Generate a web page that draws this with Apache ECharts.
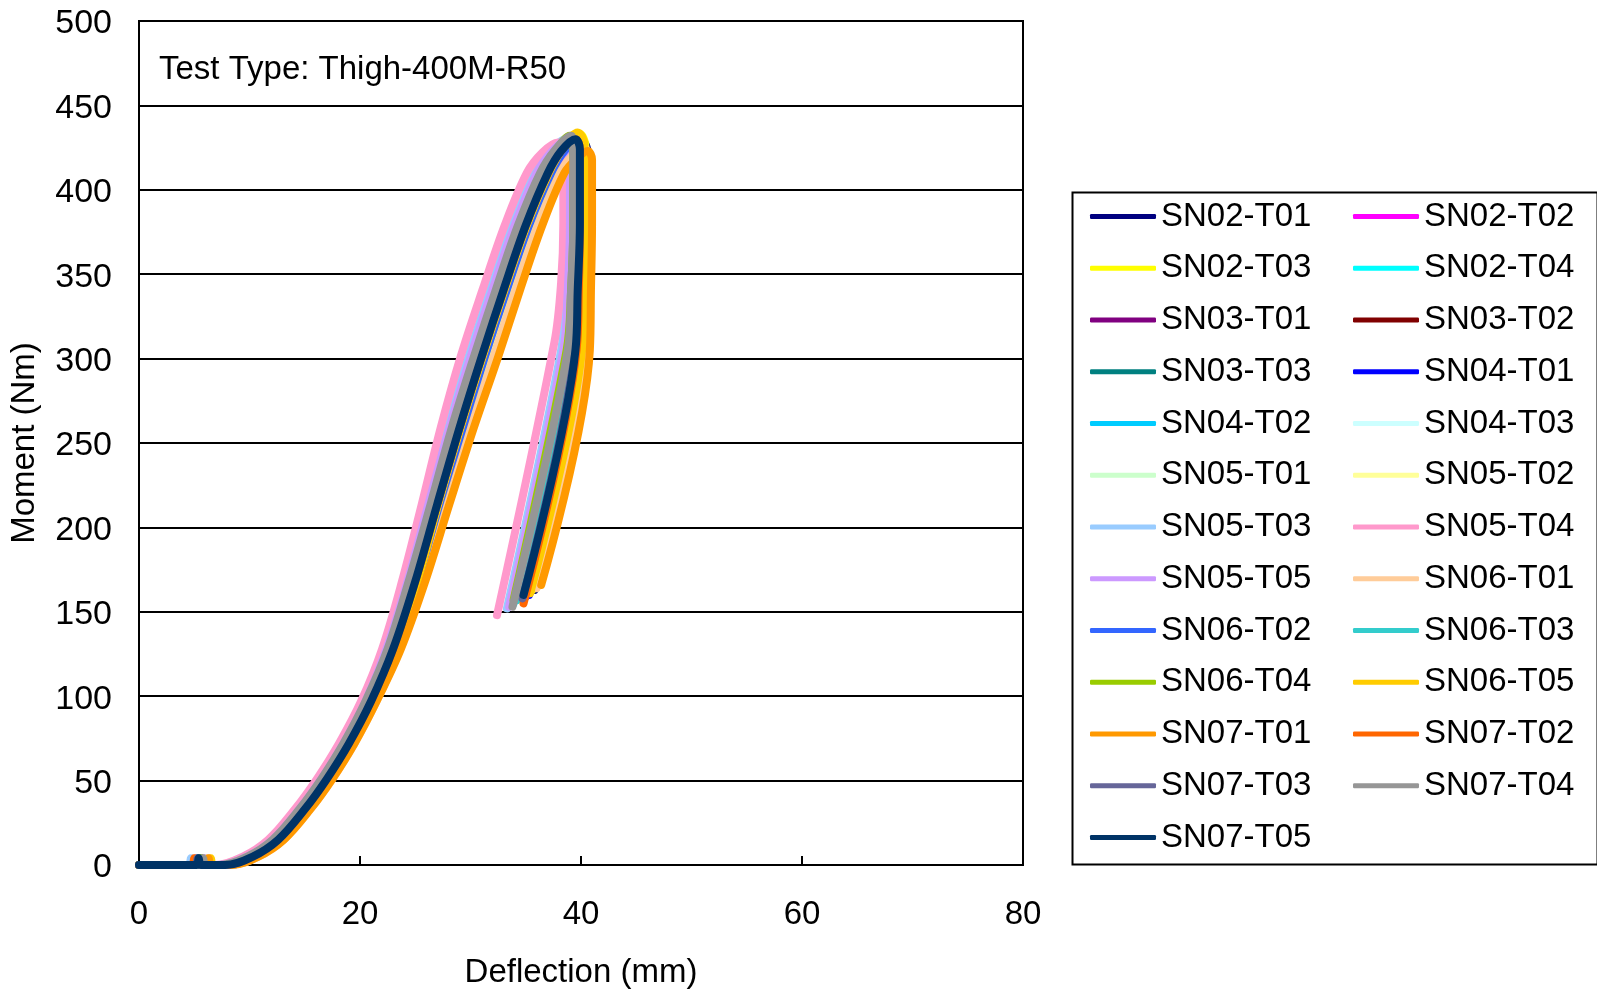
<!DOCTYPE html>
<html><head><meta charset="utf-8">
<script src="https://cdn.jsdelivr.net/npm/echarts@6/dist/echarts.min.js"></script>
<style>html,body{margin:0;padding:0;background:#fff}#c{width:1597px;height:995px}</style>
</head><body><div id="c"></div>
<script>
// ---- data (Deflection mm, Moment Nm) ----
const xTickValues = [0, 20, 40, 60, 80];
const yTickValues = [0, 50, 100, 150, 200, 250, 300, 350, 400, 450, 500];
const annotation = 'Test Type: Thigh-400M-R50';
const seriesNames = ['SN02-T01','SN02-T02','SN02-T03','SN02-T04','SN03-T01','SN03-T02','SN03-T03','SN04-T01','SN04-T02','SN04-T03','SN05-T01','SN05-T02','SN05-T03','SN05-T04','SN05-T05','SN06-T01','SN06-T02','SN06-T03','SN06-T04','SN06-T05','SN07-T01','SN07-T02','SN07-T03','SN07-T04','SN07-T05'];

const SN02_T01 = [[0,0],[5.4,0],[5.6,4],[5.8,0],[8.1,0],[10.6,5],[12.9,15],[15.3,33],[17.3,51],[19.3,72],[21.3,97],[23.4,128],[25.5,168],[27.6,214],[29.7,259],[31.8,301],[33.8,341],[35.8,379],[37.8,410],[39.0,422],[40.2,428],[40.6,422],[40.6,380],[40.5,340],[40.4,305],[35.8,163]];
const SN02_T02 = [[0,0],[5.1,0],[5.3,4],[5.5,0],[7.8,0],[10.3,5],[12.6,15],[15.0,33],[17.0,51],[19.0,72],[21.0,97],[23.0,128],[25.0,168],[27.1,214],[29.1,259],[31.1,301],[33.1,341],[35.1,379],[37.1,410],[38.3,423],[39.4,430],[39.7,424],[39.7,380],[39.5,340],[39.3,305],[34.6,158]];
const SN02_T03 = [[0,0],[5.5,0],[5.7,4],[5.9,0],[8.1,0],[10.6,5],[12.9,15],[15.3,33],[17.3,51],[19.3,72],[21.3,97],[23.3,128],[25.4,168],[27.5,214],[29.5,259],[31.6,301],[33.6,341],[35.6,379],[37.6,410],[38.8,424],[39.9,433],[40.4,426],[40.4,380],[40.3,340],[40.2,305],[35.6,163]];
const SN02_T04 = [[0,0],[5.3,0],[5.5,4],[5.7,0],[7.6,0],[10.1,5],[12.4,15],[14.8,33],[16.8,51],[18.8,72],[20.8,97],[22.8,128],[24.7,168],[26.7,214],[28.6,259],[30.6,301],[32.6,341],[34.6,379],[36.6,410],[37.8,423],[39.2,430],[39.3,424],[39.3,380],[39.1,340],[38.7,305],[33.9,156]];
const SN03_T01 = [[0,0],[5.2,0],[5.4,4],[5.6,0],[7.8,0],[10.3,5],[12.6,15],[15.0,33],[17.0,51],[19.0,72],[21.0,97],[23.0,128],[25.1,168],[27.1,214],[29.2,259],[31.2,301],[33.2,341],[35.2,379],[37.2,410],[38.4,423],[39.5,431],[39.9,425],[39.9,380],[39.8,340],[39.6,305],[34.9,159]];
const SN03_T02 = [[0,0],[5.4,0],[5.6,4],[5.8,0],[7.9,0],[10.4,5],[12.7,15],[15.1,33],[17.1,51],[19.1,72],[21.1,97],[23.1,128],[25.2,168],[27.2,214],[29.3,259],[31.3,301],[33.3,341],[35.3,379],[37.3,410],[38.5,423],[39.8,430],[40.1,424],[40.1,380],[40.0,340],[39.8,305],[35.1,160]];
const SN03_T03 = [[0,0],[5.1,0],[5.3,4],[5.5,0],[7.8,0],[10.2,5],[12.5,15],[14.9,33],[17.0,51],[19.0,72],[21.0,97],[23.0,128],[25.0,168],[27.0,214],[29.1,259],[31.1,301],[33.1,341],[35.1,379],[37.1,410],[38.3,423],[39.5,430],[39.7,424],[39.7,380],[39.5,340],[39.3,305],[34.6,158]];
const SN04_T01 = [[0,0],[5.6,0],[5.8,4],[6.0,0],[8.1,0],[10.6,5],[12.9,15],[15.3,33],[17.3,51],[19.3,72],[21.3,97],[23.3,128],[25.4,168],[27.5,214],[29.5,259],[31.6,301],[33.6,341],[35.6,379],[37.6,410],[38.8,422],[39.9,429],[40.3,423],[40.3,380],[40.2,340],[40.0,305],[35.3,160]];
const SN04_T02 = [[0,0],[5.0,0],[5.2,4],[5.4,0],[7.5,0],[10.0,5],[12.3,15],[14.7,33],[16.7,51],[18.7,72],[20.7,97],[22.7,128],[24.6,168],[26.6,214],[28.5,259],[30.5,301],[32.5,341],[34.5,379],[36.5,410],[37.8,424],[39.2,431],[39.3,425],[39.3,380],[39.1,340],[38.7,305],[33.9,155]];
const SN04_T03 = [[0,0],[4.8,0],[5.0,4],[5.2,0],[7.4,0],[9.9,5],[12.2,15],[14.6,33],[16.6,51],[18.6,72],[20.6,97],[22.6,128],[24.5,168],[26.4,214],[28.4,259],[30.3,301],[32.3,341],[34.3,379],[36.3,410],[37.6,423],[39.0,430],[39.1,424],[39.1,380],[38.9,340],[38.5,305],[33.7,155]];
const SN05_T01 = [[0,0],[5.3,0],[5.5,4],[5.7,0],[7.4,0],[9.9,5],[12.2,15],[14.6,33],[16.6,51],[18.6,72],[20.6,97],[22.5,128],[24.5,168],[26.4,214],[28.3,259],[30.2,301],[32.2,341],[34.2,379],[36.2,410],[37.5,423],[39.0,430],[39.1,424],[39.1,380],[38.9,340],[38.5,305],[33.6,154]];
const SN05_T02 = [[0,0],[5.7,0],[5.9,4],[6.1,0],[8.0,0],[10.5,5],[12.8,15],[15.2,33],[17.2,51],[19.2,72],[21.2,97],[23.2,128],[25.3,168],[27.3,214],[29.4,259],[31.4,301],[33.4,341],[35.4,379],[37.4,410],[38.6,423],[39.7,431],[40.2,425],[40.2,380],[40.1,340],[39.9,305],[35.2,161]];
const SN05_T03 = [[0,0],[4.5,0],[4.7,4],[4.9,0],[7.2,0],[9.7,5],[12.0,15],[14.4,33],[16.4,51],[18.4,72],[20.4,97],[22.3,128],[24.2,168],[26.1,214],[27.9,259],[29.8,301],[31.8,341],[33.8,379],[35.8,410],[37.2,423],[38.6,430],[38.8,424],[38.8,380],[38.6,340],[38.2,305],[33.3,152]];
const SN05_T04 = [[0,0],[4.9,0],[5.1,4],[5.3,0],[6.9,0],[9.4,5],[11.7,15],[14.1,33],[16.1,51],[18.1,72],[20.1,97],[22.0,128],[23.8,168],[25.6,214],[27.3,259],[29.1,301],[31.1,341],[33.1,379],[35.1,410],[36.5,422],[37.9,428],[38.4,422],[38.4,380],[38.2,345],[37.6,310],[32.4,148]];
const SN05_T05 = [[0,0],[5.8,0],[6.0,4],[6.2,0],[7.3,0],[9.8,5],[12.1,15],[14.5,33],[16.5,51],[18.5,72],[20.5,97],[22.4,128],[24.3,168],[26.2,214],[28.1,259],[30.0,301],[32.0,341],[34.0,379],[36.0,410],[37.4,423],[38.8,430],[39.0,424],[39.0,380],[38.8,340],[38.4,305],[33.5,153]];
const SN06_T01 = [[0,0],[6.0,0],[6.2,4],[6.4,0],[8.3,0],[10.8,5],[13.1,15],[15.5,33],[17.5,51],[19.5,72],[21.5,97],[23.6,128],[25.7,168],[27.8,214],[30.0,259],[32.1,301],[34.1,341],[36.1,379],[38.1,410],[39.2,420],[40.2,425],[40.8,419],[40.8,380],[40.7,340],[40.6,305],[36.0,164]];
const SN06_T02 = [[0,0],[5.3,0],[5.5,4],[5.7,0],[7.9,0],[10.4,5],[12.7,15],[15.1,33],[17.1,51],[19.1,72],[21.1,97],[23.1,128],[25.2,168],[27.2,214],[29.3,259],[31.3,301],[33.3,341],[35.3,379],[37.3,410],[38.5,423],[39.7,430],[40.1,424],[40.1,380],[39.9,340],[39.7,305],[35.0,159]];
const SN06_T03 = [[0,0],[5.2,0],[5.4,4],[5.6,0],[7.7,0],[10.2,5],[12.5,15],[14.9,33],[16.9,51],[18.9,72],[20.9,97],[22.9,128],[24.9,168],[26.9,214],[28.8,259],[30.8,301],[32.8,341],[34.8,379],[36.8,410],[38.0,423],[39.3,431],[39.5,425],[39.5,380],[39.3,340],[39.0,305],[34.2,157]];
const SN06_T04 = [[0,0],[5.4,0],[5.6,4],[5.8,0],[7.6,0],[10.1,5],[12.4,15],[14.8,33],[16.8,51],[18.8,72],[20.8,97],[22.8,128],[24.7,168],[26.7,214],[28.6,259],[30.6,301],[32.6,341],[34.6,379],[36.6,410],[37.8,424],[39.0,432],[39.3,426],[39.3,380],[39.1,340],[38.7,305],[33.9,157]];
const SN06_T05 = [[0,0],[6.3,0],[6.5,4],[6.7,0],[8.0,0],[10.5,5],[12.8,15],[15.2,33],[17.2,51],[19.2,72],[21.2,97],[23.2,128],[25.2,168],[27.1,214],[29.1,259],[31.1,301],[33.1,341],[35.1,379],[37.1,410],[38.4,425],[39.7,434],[40.3,427],[40.3,380],[40.3,340],[40.1,305],[35.4,161]];
const SN07_T01 = [[0,0],[6.1,0],[6.3,4],[6.5,0],[8.3,0],[10.8,5],[13.1,15],[15.5,33],[17.5,51],[19.5,72],[21.5,97],[23.7,128],[25.9,168],[28.1,214],[30.3,259],[32.5,301],[34.5,341],[36.5,379],[38.5,410],[39.7,419],[40.6,423],[41.0,418],[41.0,380],[40.9,340],[40.8,305],[36.4,166]];
const SN07_T02 = [[0,0],[4.8,0],[5.0,4],[5.2,0],[7.8,0],[10.3,5],[12.6,15],[15.0,33],[17.0,51],[19.0,72],[21.0,97],[23.0,128],[25.0,168],[27.0,214],[29.0,259],[31.0,301],[33.0,341],[35.0,379],[37.0,410],[38.2,423],[39.5,430],[39.9,424],[39.9,380],[39.8,340],[39.6,305],[34.8,155]];
const SN07_T03 = [[0,0],[5.1,0],[5.3,4],[5.5,0],[7.7,0],[10.2,5],[12.5,15],[14.9,33],[16.9,51],[18.9,72],[20.9,97],[22.9,128],[24.9,168],[27.0,214],[29.0,259],[31.0,301],[33.0,341],[35.0,379],[37.0,410],[38.2,423],[39.5,430],[39.8,424],[39.8,380],[39.6,340],[39.4,305],[34.7,158]];
const SN07_T04 = [[0,0],[5.6,0],[5.8,4],[6.0,0],[7.3,0],[9.8,5],[12.1,15],[14.5,33],[16.5,51],[18.5,72],[20.5,97],[22.5,128],[24.4,168],[26.4,214],[28.3,259],[30.3,301],[32.3,341],[34.3,379],[36.3,410],[37.7,424],[39.1,432],[39.3,426],[39.3,380],[39.1,340],[38.8,305],[33.8,153]];
const SN07_T05 = [[0,0],[5.2,0],[5.4,4],[5.6,0],[7.8,0],[10.3,5],[12.6,15],[15.0,33],[17.0,51],[19.0,72],[21.0,97],[23.0,128],[25.0,168],[27.0,214],[29.0,259],[31.0,301],[33.0,341],[35.0,379],[37.0,410],[38.2,423],[39.5,430],[39.9,424],[39.9,380],[39.7,340],[39.5,305],[34.8,160]];

const seriesData = [SN02_T01,SN02_T02,SN02_T03,SN02_T04,SN03_T01,SN03_T02,SN03_T03,SN04_T01,SN04_T02,SN04_T03,SN05_T01,SN05_T02,SN05_T03,SN05_T04,SN05_T05,SN06_T01,SN06_T02,SN06_T03,SN06_T04,SN06_T05,SN07_T01,SN07_T02,SN07_T03,SN07_T04,SN07_T05];

// ---- styles ----
const seriesColors = ['#000080','#FF00FF','#FFFF00','#00FFFF','#800080','#800000','#008080','#0000FF','#00CCFF','#CCFFFF','#CCFFCC','#FFFF99','#99CCFF','#FF99CC','#CC99FF','#FFCC99','#3366FF','#33CCCC','#99CC00','#FFCC00','#FF9900','#FF6600','#666699','#969696','#003366'];
const FONT = 'Liberation Sans, Arial, sans-serif';
const FS = 33;

const chart = echarts.init(document.getElementById('c'), null, {renderer: 'canvas'});
const col1 = seriesNames.filter((n, i) => i % 2 === 0);
const col2 = seriesNames.filter((n, i) => i % 2 === 1);
const legendBase = {
  orient: 'vertical', top: 200, padding: 0,
  itemWidth: 66, itemHeight: 5, itemGap: 18.75, icon: 'roundRect',
  textStyle: {fontSize: FS, fontFamily: FONT, color: '#000'},
  selectedMode: false
};
chart.setOption({
  animation: false,
  backgroundColor: '#fff',
  color: seriesColors,
  textStyle: {fontFamily: FONT},
  grid: {left: 136, top: 21, width: 887, height: 844, show: true, borderColor: '#000', borderWidth: 2, backgroundColor: 'transparent'},
  xAxis: {
    type: 'value', min: xTickValues[0], max: xTickValues[xTickValues.length - 1], interval: 20,
    name: 'Deflection (mm)', nameLocation: 'middle', nameGap: 91,
    nameTextStyle: {fontSize: FS, fontFamily: FONT, color: '#000'},
    axisLine: {show: true, lineStyle: {color: '#000', width: 2}},
    axisTick: {show: true, inside: true, length: 9, lineStyle: {color: '#000', width: 2}},
    axisLabel: {fontSize: FS, fontFamily: FONT, color: '#000', margin: 33},
    splitLine: {show: false}
  },
  yAxis: {
    type: 'value', min: yTickValues[0], max: yTickValues[yTickValues.length - 1], interval: 50,
    name: 'Moment (Nm)', nameLocation: 'middle', nameGap: 98, nameRotate: 90,
    nameTextStyle: {fontSize: FS, fontFamily: FONT, color: '#000'},
    axisLine: {show: true, lineStyle: {color: '#000', width: 2}},
    axisTick: {show: false},
    axisLabel: {
      margin: 27, formatter: '{v|{value}}',
      rich: {v: {fontSize: 34, fontFamily: FONT, color: '#000', padding: [6, 0, 0, 0]}}
    },
    splitLine: {show: true, lineStyle: {color: '#000', width: 2}}
  },
  legend: [
    Object.assign({}, legendBase, {left: 1090, data: col1}),
    Object.assign({}, legendBase, {left: 1353, data: col2})
  ],
  graphic: [
    {type: 'rect', left: 1070, top: 190, shape: {width: 525, height: 672}, style: {fill: 'none', stroke: '#000', lineWidth: 2}, silent: true},
    {type: 'text', left: 159, top: 73 - FS * 0.6, style: {text: annotation, font: FS + 'px ' + FONT, fill: '#000'}, silent: true}
  ],
  series: seriesNames.map((name, i) => ({
    name: name, type: 'line', data: seriesData[i],
    showSymbol: false, symbol: 'none', smooth: 0.35,
    lineStyle: {width: 8, color: seriesColors[i], cap: 'round', join: 'round'},
    itemStyle: {color: seriesColors[i]},
    clip: true
  }))
});
</script>
</body></html>
